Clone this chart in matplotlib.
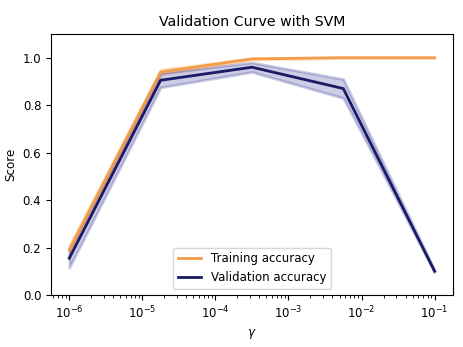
import numpy as np
import matplotlib.pyplot as plt

param_range = np.logspace(-6, -1, 5)
train_mean = [0.19, 0.94, 0.995, 1.0, 1.0]
train_std = [0.02, 0.01, 0.004, 0.001, 0.0]
test_mean = [0.155, 0.905, 0.96, 0.87, 0.10]
test_std = [0.04, 0.03, 0.02, 0.04, 0.005]

train_mean = np.array(train_mean)
train_std = np.array(train_std)
test_mean = np.array(test_mean)
test_std = np.array(test_std)

fig, ax = plt.subplots(figsize=(4.64, 3.47), dpi=100)
fig.subplots_adjust(left=0.11, right=0.976, bottom=0.15, top=0.902)

ax.set_title("Validation Curve with SVM", fontsize=10.2)
ax.set_xlabel(r"$\gamma$", fontsize=8.6)
ax.set_ylabel("Score", fontsize=8.6)
ax.set_ylim(0.0, 1.1)
lw = 2
ax.semilogx(param_range, train_mean, label="Training accuracy", color="#f39c4a", lw=lw)
ax.fill_between(param_range, train_mean - train_std, train_mean + train_std,
                alpha=0.2, color="darkorange", lw=lw)
ax.semilogx(param_range, test_mean, label="Validation accuracy", color="#1a1a66", lw=lw)
ax.fill_between(param_range, test_mean - test_std, test_mean + test_std,
                alpha=0.2, color="navy", lw=lw)
ax.tick_params(labelsize=8.5)
ax.legend(loc="lower center", fontsize=8.5)
fig.savefig("out.png")
